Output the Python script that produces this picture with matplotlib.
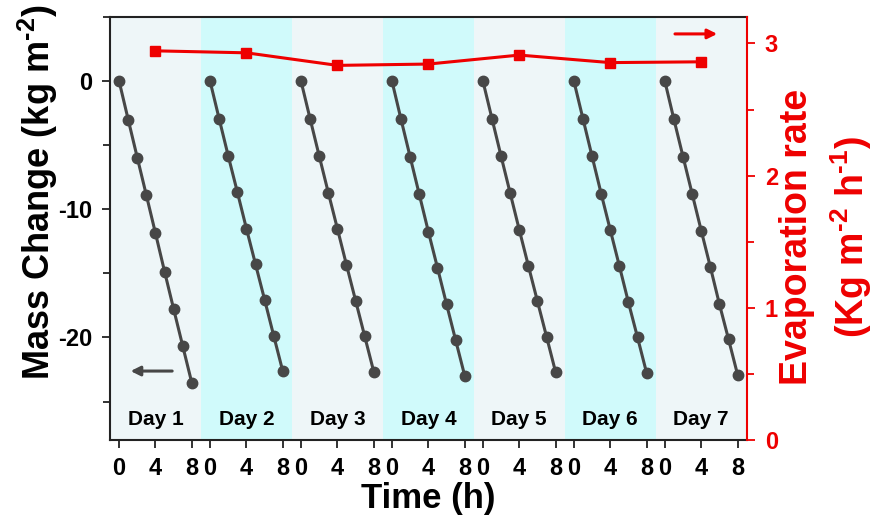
import matplotlib
matplotlib.use("Agg")
import matplotlib.pyplot as plt
from matplotlib.ticker import MultipleLocator

plt.rcParams["font.family"] = ["Liberation Sans", "DejaVu Sans"]
plt.rcParams["font.weight"] = "bold"
plt.rcParams["axes.unicode_minus"] = False
plt.rcParams["mathtext.fontset"] = "custom"
plt.rcParams["mathtext.rm"] = "Liberation Sans:bold"
plt.rcParams["mathtext.bf"] = "Liberation Sans:bold"
plt.rcParams["mathtext.it"] = "Liberation Sans:bold"
plt.rcParams["mathtext.default"] = "rm"

# data
days = ["Day 1", "Day 2", "Day 3", "Day 4", "Day 5", "Day 6", "Day 7"]
hours = [0, 1, 2, 3, 4, 5, 6, 7, 8]
mass_day1 = [0, -3.0, -5.97, -8.91, -11.87, -14.86, -17.79, -20.68, -23.56]
mass_day2 = [0, -2.94, -5.84, -8.65, -11.51, -14.29, -17.06, -19.87, -22.65]
mass_day3 = [0, -2.94, -5.84, -8.70, -11.51, -14.34, -17.12, -19.90, -22.68]
mass_day4 = [0, -2.99, -5.92, -8.83, -11.74, -14.55, -17.40, -20.21, -22.99]
mass_day5 = [0, -2.94, -5.87, -8.75, -11.61, -14.42, -17.19, -19.95, -22.73]
mass_day6 = [0, -2.94, -5.87, -8.78, -11.61, -14.42, -17.27, -20.00, -22.78]
mass_day7 = [0, -2.99, -5.90, -8.78, -11.66, -14.49, -17.40, -20.13, -22.91]
mass = [mass_day1, mass_day2, mass_day3, mass_day4, mass_day5, mass_day6, mass_day7]
evap_rate = [2.944, 2.929, 2.834, 2.844, 2.912, 2.855, 2.861]
evap_hour = 4
day_len = 10
tick_hours = [0, 4, 8]

band_colors = ["#eef6f8", "#d0fafb"]
gray = "#474747"
red = "#ee0000"

fig = plt.figure(figsize=(8.85, 5.22), dpi=100)
ax = fig.add_axes([110 / 885, 82 / 522, 636.7 / 885, 423 / 522])
ax2 = ax.twinx()

for i, d in enumerate(days):
    off = i * day_len
    ax.axvspan(off - 1, off + 9, color=band_colors[i % 2], lw=0, zorder=0)
    ax.plot([h + off for h in hours], mass[i], "-o", color=gray, lw=2.2, ms=7.5, zorder=3)
    ax.text(off + 4, -26.4, d, ha="center", va="center", fontsize=15, fontweight="bold")

ax2.plot([i * day_len + evap_hour for i in range(len(days))], evap_rate, "-s", color=red,
         lw=2.2, ms=7.5, zorder=3)

ax.set_xlim(-1, 69)
ax.set_ylim(-28, 5)
ax2.set_ylim(0, 3.2)

xt = [i * day_len + h for i in range(len(days)) for h in tick_hours]
ax.set_xticks(xt)
ax.set_xticklabels([str(h) for i in range(len(days)) for h in tick_hours])
ax.yaxis.set_major_locator(MultipleLocator(10))
ax.yaxis.set_minor_locator(MultipleLocator(5))
ax2.yaxis.set_major_locator(MultipleLocator(1))
ax2.yaxis.set_minor_locator(MultipleLocator(0.5))

ax.tick_params(axis="both", which="major", direction="out", length=6, width=1.3,
               labelsize=17, pad=7, color="#222222")
ax.tick_params(axis="y", which="minor", direction="out", length=5, width=1.3, color="#222222")
ax.tick_params(axis="x", pad=6)
ax2.tick_params(axis="y", which="major", direction="out", length=6, width=1.3,
                labelsize=17, pad=7, colors=red)
ax2.tick_params(axis="y", which="minor", direction="out", length=5, width=1.3, colors=red)

for s in ["left", "bottom", "top"]:
    ax.spines[s].set_linewidth(1.5)
    ax.spines[s].set_color("#222222")
    ax2.spines[s].set_visible(False)
ax.spines["right"].set_visible(False)
ax2.spines["right"].set_color(red)
ax2.spines["right"].set_linewidth(1.5)

ax.set_xlabel("Time (h)", fontsize=25, fontweight="bold", labelpad=2)
ax.set_ylabel(r"Mass Change (kg m$^{\text{-2}}$)", fontsize=26, fontweight="bold")
ax.yaxis.set_label_coords(-0.078, 0.585)
ax2.set_ylabel("Evaporation rate\n" + r"(Kg m$^{\text{-2}}$ h$^{\text{-1}}$)", fontsize=27,
               fontweight="bold", color=red, linespacing=1.4)
ax2.yaxis.set_label_coords(1.05, 0.48)

ax.annotate("", xy=(0.028, 0.163), xytext=(0.102, 0.163), xycoords="axes fraction",
            arrowprops=dict(arrowstyle="-|>", color=gray, lw=2.2, mutation_scale=14))
ax.annotate("", xy=(0.958, 0.96), xytext=(0.883, 0.96), xycoords="axes fraction",
            arrowprops=dict(arrowstyle="-|>", color=red, lw=2.2, mutation_scale=14))

fig.savefig("out.png", dpi=100)
